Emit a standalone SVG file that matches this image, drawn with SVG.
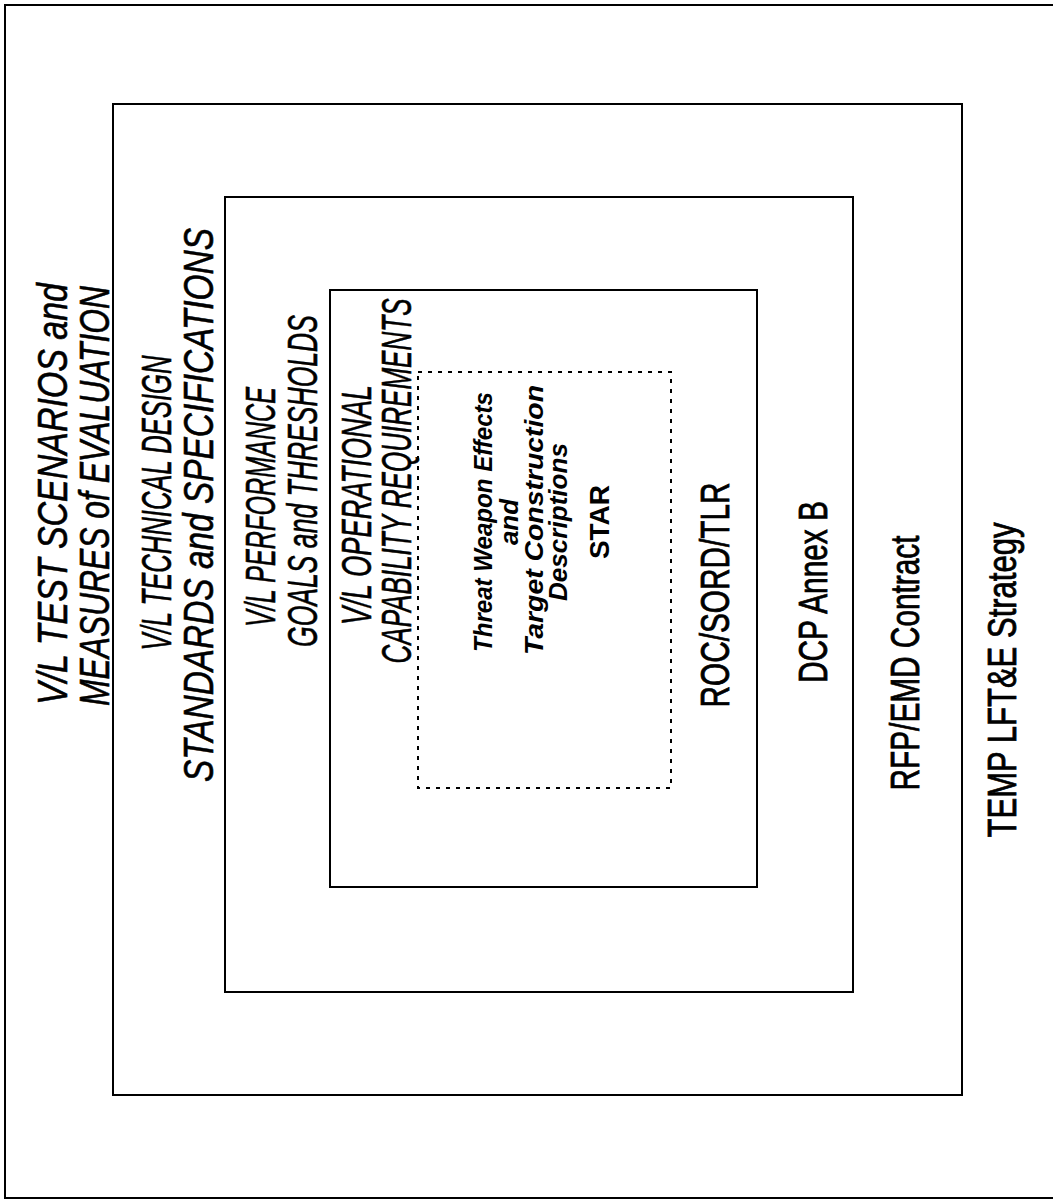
<svg xmlns="http://www.w3.org/2000/svg" width="1053" height="1201" viewBox="0 0 1053 1201">
<style>
.box{fill:none;stroke:#000;stroke-width:2}
.dash{fill:none;stroke:#000;stroke-width:2;stroke-dasharray:4 6}
.big{font-family:"Liberation Sans",Arial,sans-serif;font-size:43px;font-style:italic;fill:#000;stroke:#000;stroke-width:0.6;text-anchor:middle}
.lbl{font-family:"Liberation Sans",Arial,sans-serif;font-size:40px;fill:#000;stroke:#000;stroke-width:0.8;text-anchor:middle}
.inn{font-family:"Liberation Sans",Arial,sans-serif;font-size:26px;font-style:italic;font-weight:bold;fill:#000;text-anchor:middle}
.star{font-family:"Liberation Sans",Arial,sans-serif;font-size:28px;font-weight:bold;fill:#000;text-anchor:middle}
</style>
<rect width="1053" height="1201" fill="#fff"/>
<g id="frame"><rect class="box" x="5" y="5" width="1060" height="1193"/></g>
<g id="box-temp">
<rect class="box" x="113" y="104" width="849" height="991"/>
<text class="big" transform="translate(67,494) rotate(-90)" textLength="422" lengthAdjust="spacingAndGlyphs">V/L TEST SCENARIOS and</text>
<text class="big" transform="translate(109,496) rotate(-90)" textLength="420" lengthAdjust="spacingAndGlyphs">MEASURES of EVALUATION</text>
<text class="lbl" transform="translate(1016,680) rotate(-90)" textLength="315" lengthAdjust="spacingAndGlyphs">TEMP LFT&amp;E Strategy</text>
</g>
<g id="box-rfp">
<rect class="box" x="225" y="197" width="628" height="795"/>
<text class="big" transform="translate(171,503) rotate(-90)" textLength="295" lengthAdjust="spacingAndGlyphs">V/L TECHNICAL DESIGN</text>
<text class="big" transform="translate(213,505) rotate(-90)" textLength="554" lengthAdjust="spacingAndGlyphs">STANDARDS and SPECIFICATIONS</text>
<text class="lbl" transform="translate(919,663) rotate(-90)" textLength="255" lengthAdjust="spacingAndGlyphs">RFP/EMD Contract</text>
</g>
<g id="box-dcp">
<rect class="box" x="330" y="290" width="427" height="597"/>
<text class="big" transform="translate(275,507) rotate(-90)" textLength="240" lengthAdjust="spacingAndGlyphs">V/L PERFORMANCE</text>
<text class="big" transform="translate(317,481) rotate(-90)" textLength="332" lengthAdjust="spacingAndGlyphs">GOALS and THRESHOLDS</text>
<text class="lbl" transform="translate(827,592) rotate(-90)" textLength="182" lengthAdjust="spacingAndGlyphs">DCP Annex B</text>
</g>
<g id="box-roc">
<text class="big" transform="translate(371,505) rotate(-90)" textLength="240" lengthAdjust="spacingAndGlyphs">V/L OPERATIONAL</text>
<text class="big" transform="translate(411,481) rotate(-90)" textLength="365" lengthAdjust="spacingAndGlyphs">CAPABILITY REQUIREMENTS</text>
<text class="lbl" transform="translate(729,595) rotate(-90)" textLength="225" lengthAdjust="spacingAndGlyphs">ROC/SORD/TLR</text>
</g>
<g id="box-star">
<rect class="dash" x="418" y="372" width="253" height="416"/>
<text class="inn" transform="translate(492,522) rotate(-90)" textLength="260" lengthAdjust="spacingAndGlyphs">Threat Weapon Effects</text>
<text class="inn" transform="translate(518,522) rotate(-90)">and</text>
<text class="inn" transform="translate(543,520) rotate(-90)" textLength="270" lengthAdjust="spacingAndGlyphs">Target Construction</text>
<text class="inn" transform="translate(567,522) rotate(-90)" textLength="158" lengthAdjust="spacingAndGlyphs">Descriptions</text>
<text class="star" transform="translate(609,522) rotate(-90)">STAR</text>
</g>
<g id="connectors"></g>
</svg>
